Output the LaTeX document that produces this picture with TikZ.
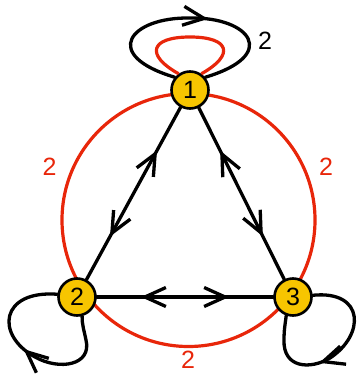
\documentclass[tikz,border=0pt]{standalone}
\usepackage{fontspec}
\setmainfont{Liberation Sans}
\usetikzlibrary{arrows.meta,decorations.markings,shadows}
\definecolor{gold}{RGB}{247,197,0}
\definecolor{gred}{RGB}{232,38,10}
\tikzset{
  barb/.tip={Straight Barb[length=21pt,width=19pt]},
  vtx/.style={circle, draw=black, line width=2.6pt, fill=gold, minimum size=37pt,
    inner sep=0pt, font=\fontsize{25}{25}\selectfont,
    drop shadow={opacity=0.35, shadow xshift=0.6pt, shadow yshift=-1.2pt}},
  conn/.style={line width=3.3pt, draw=black, line cap=round},
  redline/.style={line width=3.2pt, draw=gred},
  lbl/.style={font=\fontsize{25}{25}\selectfont, inner sep=0pt},
  twoway/.style={decoration={markings,
      mark=at position 0.25 with {\arrowreversed{barb}},
      mark=at position 0.75 with {\arrow{barb}}},
    postaction={decorate}},
  onearrow/.style={decoration={markings,
      mark=at position #1 with {\arrow{barb}}},
    postaction={decorate}},
  backarrow/.style={decoration={markings,
      mark=at position #1 with {\arrowreversed{barb}}},
    postaction={decorate}}
}
\begin{document}
\begin{tikzpicture}[x=1pt,y=-1pt]
\useasboundingbox (0,0) rectangle (357,374);
% red circle
\draw[redline] (188.5,220) circle[radius=126.5];
% vertices
\node[vtx] (n1) at (190,90) {1};
\node[vtx] (n2) at (77,297) {2};
\node[vtx] (n3) at (293,297) {3};
% edges
\draw[conn, twoway] (n1) -- (n2);
\draw[conn, twoway] (n1) -- (n3);
\draw[conn, twoway] (n2) -- (n3);
% red loop at 1
\draw[redline] (n1.125) .. controls (145,55) and (150,37) .. (190,37)
  .. controls (230,37) and (235,55) .. (n1.55);
% black loop at 1
\draw[conn, onearrow=0.57] (n1.140) .. controls (100,55) and (130,17) .. (190,18)
  .. controls (250,17) and (280,55) .. (n1.40);
% loop at 2
\draw[conn, backarrow=0.47] (n2.172) .. controls (0,290) and (-5,335) .. (35,357)
  .. controls (60,371) and (92,365) .. (86,340)
  .. controls (84,330) and (82,325) .. (n2.-75);
% loop at 3
\draw[conn, onearrow=0.6] (n3.5) .. controls (365,290) and (365,335) .. (330,358)
  .. controls (310,370) and (283,368) .. (284,340)
  .. controls (284,330) and (285,325) .. (n3.250);
% labels
\node[lbl] (t1) at (265,41) {2};
\node[lbl, text=gred] (tl) at (49.5,167) {2};
\node[lbl, text=gred] (tr) at (326,167) {2};
\node[lbl, text=gred] (tb) at (188,360) {2};
\end{tikzpicture}
\end{document}
